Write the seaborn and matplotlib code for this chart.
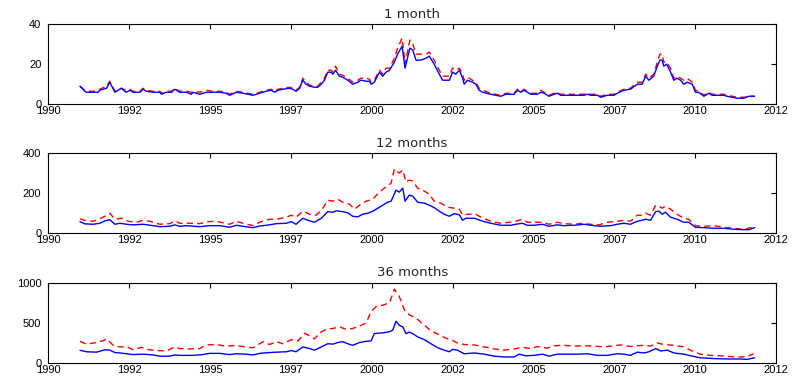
import numpy as np
import pandas as pd
import matplotlib
matplotlib.use("Agg")
import matplotlib.pyplot as plt
import seaborn as sns

# ---------------- data (decimal years) ----------------
titles = ["1 month", "12 months", "36 months"]
y_ticks = [[0, 20, 40], [0, 200, 400], [0, 500, 1000]]
x_ticks = [1990, 1992.5, 1995, 1997.5, 2000, 2002.5, 2005, 2007.5, 2010, 2012.5]
x_tick_labels = ["1990", "1992", "1995", "1997", "2000", "2002", "2005", "2007", "2010", "2012"]

t1 = [1990.98, 1991.13, 1991.18, 1991.39, 1991.54, 1991.59, 1991.80, 1991.90, 1992.06, 1992.26,
      1992.40, 1992.52, 1992.62, 1992.83, 1992.93, 1993.03, 1993.24, 1993.45, 1993.50, 1993.65,
      1993.81, 1993.91, 1994.06, 1994.27, 1994.42, 1994.48, 1994.68, 1994.89, 1995.09, 1995.30,
      1995.50, 1995.61, 1995.81, 1996.02, 1996.33, 1996.53, 1996.74, 1996.89, 1997.00, 1997.10,
      1997.25, 1997.46, 1997.56, 1997.66, 1997.77, 1997.87, 1997.97, 1998.08, 1998.23, 1998.33,
      1998.44, 1998.54, 1998.64, 1998.74, 1998.80, 1998.88, 1999.00, 1999.10, 1999.26, 1999.41,
      1999.57, 1999.67, 1999.83, 1999.93, 1999.98, 2000.08, 2000.24, 2000.34, 2000.44, 2000.55,
      2000.70, 2000.80, 2000.94, 2001.03, 2001.09, 2001.18, 2001.27, 2001.37, 2001.52, 2001.68,
      2001.78, 2001.93, 2002.09, 2002.19, 2002.29, 2002.40, 2002.50, 2002.60, 2002.71, 2002.81,
      2002.86, 2002.96, 2003.12, 2003.22, 2003.32, 2003.43, 2003.68, 2003.99, 2004.15, 2004.40,
      2004.51, 2004.61, 2004.71, 2004.81, 2004.92, 2005.12, 2005.23, 2005.33, 2005.48, 2005.64,
      2005.74, 2005.84, 2006.56, 2006.67, 2006.77, 2006.98, 2007.08, 2007.28, 2007.49, 2007.59,
      2007.80, 2008.00, 2008.21, 2008.36, 2008.47, 2008.57, 2008.72, 2008.83, 2008.91, 2008.98,
      2009.03, 2009.12, 2009.24, 2009.34, 2009.44, 2009.55, 2009.65, 2009.75, 2009.91, 2010.01,
      2010.11, 2010.27, 2010.42, 2010.52, 2010.88, 2010.99, 2011.30, 2011.50, 2011.66, 2011.84]
blue1 = [9, 6.5, 6, 6, 6, 7, 8, 11, 6, 8,
         6, 7, 6, 6, 7.5, 6.5, 6, 6, 5, 6,
         6, 7.5, 6, 6, 5, 6, 5, 6, 6, 6,
         5.5, 4.5, 6, 5.5, 4.5, 5.5, 6.5, 7, 6, 7,
         7.5, 8, 7.5, 6.5, 8, 12, 10, 9, 8.5, 8.5,
         10, 12, 16, 16, 15, 17, 14, 13.5, 12, 10,
         11, 12, 11.5, 11.5, 10, 11, 16, 14, 16, 17,
         21, 25, 29, 18, 22, 28, 27, 22, 22, 23,
         24, 20, 15, 12, 12, 12, 16, 15, 17, 13,
         10, 12, 11, 10, 7, 6, 5, 4, 5, 5,
         7, 6, 7, 6, 5, 5, 6, 5.5, 4, 5,
         5.5, 4.5, 4.5, 5, 4.5, 4.5, 3.5, 4.5, 4.5, 5.5,
         7, 7.5, 10, 10, 14, 12, 14, 19, 22, 22,
         19, 20, 16, 12, 13, 12, 10, 11, 10, 6,
         6, 4, 5.5, 4.5, 4.5, 4, 3, 3, 4, 4]
red1 = [9, 7, 6.5, 6.5, 7, 7.5, 9, 11.5, 6.5, 8,
        7, 7.5, 6.5, 6.5, 8, 7, 6.5, 6.5, 5.5, 6.5,
        6.5, 8, 6.5, 6.5, 6, 6.5, 6, 7, 6.5, 6.5,
        6, 5, 6.5, 6, 5, 6, 7, 7.5, 6.5, 7.5,
        8, 8.5, 8, 7, 8.5, 13, 11, 9.5, 9, 9,
        11, 13, 17, 17, 16, 19, 15, 14.5, 13, 11,
        12, 13, 13, 12.5, 11, 12, 17, 15, 18, 18,
        23, 28, 33, 20, 25, 32, 30, 25, 25, 25,
        26, 22, 17, 14, 14, 14, 18, 17, 18, 15,
        12, 13.5, 12, 11, 8, 7, 5.5, 4.5, 5.5, 5.5,
        7.5, 6.5, 7.5, 6.5, 5.5, 5.5, 7, 6, 4.5, 5.5,
        6, 5, 5, 5.5, 5, 5, 4, 5, 5, 6,
        7.5, 8, 11, 11, 15, 13, 15, 21, 25, 25,
        21, 21, 18, 13, 14, 13, 12, 13, 11, 7,
        6.5, 4.5, 6, 5, 5, 4.5, 3.5, 3.5, 4, 4]

t2_blue = [1990.98, 1991.13, 1991.39, 1991.59, 1991.75, 1991.90, 1992.06, 1992.21, 1992.42, 1992.62,
           1992.93, 1993.24, 1993.45, 1993.76, 1993.91, 1994.06, 1994.27, 1994.68, 1994.99, 1995.30,
           1995.61, 1995.81, 1996.02, 1996.33, 1996.53, 1996.84, 1997.05, 1997.36, 1997.51, 1997.66,
           1997.87, 1998.02, 1998.23, 1998.44, 1998.64, 1998.80, 1998.90, 1999.10, 1999.26, 1999.41,
           1999.57, 1999.72, 1999.88, 2000.03, 2000.19, 2000.34, 2000.49, 2000.60, 2000.75, 2000.85,
           2000.96, 2001.03, 2001.16, 2001.27, 2001.42, 2001.63, 2001.78, 2001.93, 2002.09, 2002.24,
           2002.40, 2002.55, 2002.71, 2002.81, 2002.91, 2003.17, 2003.43, 2003.68, 2003.99, 2004.30,
           2004.45, 2004.66, 2004.81, 2005.02, 2005.28, 2005.48, 2005.74, 2005.95, 2006.26, 2006.56,
           2006.77, 2007.08, 2007.39, 2007.59, 2007.80, 2008.00, 2008.21, 2008.36, 2008.47, 2008.62,
           2008.78, 2008.88, 2008.98, 2009.08, 2009.24, 2009.44, 2009.65, 2009.80, 2010.01, 2010.27,
           2010.58, 2010.88, 2011.19, 2011.50, 2011.66, 2011.84]
blue2 = [58, 47, 45, 50, 62, 68, 45, 50, 45, 42,
         45, 38, 33, 35, 42, 35, 38, 33, 38, 38,
         30, 40, 35, 28, 36, 42, 48, 50, 58, 45,
         75, 65, 55, 75, 108, 105, 112, 108, 102, 85,
         82, 95, 100, 110, 125, 140, 155, 160, 215, 205,
         225, 160, 190, 185, 155, 150, 140, 128, 110, 95,
         85, 98, 92, 65, 75, 75, 60, 50, 40, 40,
         45, 50, 40, 40, 45, 35, 42, 38, 40, 45,
         40, 35, 38, 45, 50, 45, 60, 65, 70, 65,
         108, 110, 95, 105, 80, 70, 55, 55, 30, 28,
         25, 25, 20, 18, 18, 28]
t2_red = [1990.98, 1991.18, 1991.39, 1991.59, 1991.75, 1991.90, 1992.06, 1992.26, 1992.47, 1992.73,
          1992.93, 1993.14, 1993.45, 1993.76, 1993.91, 1994.06, 1994.37, 1994.68, 1994.94, 1995.19,
          1995.61, 1995.81, 1996.02, 1996.33, 1996.53, 1996.84, 1997.05, 1997.36, 1997.51, 1997.66,
          1997.87, 1998.08, 1998.28, 1998.49, 1998.64, 1998.80, 1998.95, 1999.10, 1999.31, 1999.47,
          1999.62, 1999.83, 2000.03, 2000.24, 2000.39, 2000.60, 2000.70, 2000.85, 2000.96, 2001.06,
          2001.16, 2001.27, 2001.42, 2001.63, 2001.78, 2001.93, 2002.14, 2002.35, 2002.55, 2002.71,
          2002.81, 2002.96, 2003.22, 2003.43, 2003.68, 2003.99, 2004.25, 2004.45, 2004.66, 2004.81,
          2005.02, 2005.28, 2005.48, 2005.74, 2005.95, 2006.26, 2006.51, 2006.77, 2007.03, 2007.28,
          2007.59, 2007.80, 2008.00, 2008.21, 2008.36, 2008.47, 2008.62, 2008.78, 2008.88, 2008.98,
          2009.08, 2009.24, 2009.44, 2009.65, 2009.80, 2010.01, 2010.27, 2010.58, 2010.88, 2011.19,
          2011.50, 2011.71, 2011.84]
red2 = [72, 62, 60, 72, 85, 100, 70, 75, 60, 55,
        65, 60, 45, 48, 62, 50, 50, 48, 58, 60,
        45, 60, 50, 38, 55, 70, 70, 80, 90, 80,
        110, 95, 90, 125, 165, 160, 170, 155, 145, 120,
        140, 160, 170, 205, 225, 250, 320, 300, 315, 255,
        265, 260, 225, 210, 195, 160, 150, 130, 125, 120,
        90, 95, 95, 75, 60, 50, 55, 60, 70, 55,
        55, 55, 45, 55, 48, 45, 50, 45, 42, 55,
        60, 65, 60, 90, 90, 100, 90, 140, 135, 125,
        135, 120, 95, 75, 70, 38, 35, 38, 30, 25,
        20, 28, 28]

t3_blue = [1990.98, 1991.18, 1991.49, 1991.75, 1991.90, 1992.06, 1992.21, 1992.42, 1992.62, 1992.93,
           1993.24, 1993.45, 1993.76, 1993.91, 1994.06, 1994.48, 1994.78, 1994.99, 1995.30, 1995.61,
           1995.81, 1996.12, 1996.33, 1996.53, 1996.84, 1997.05, 1997.36, 1997.51, 1997.66, 1997.87,
           1998.08, 1998.23, 1998.44, 1998.64, 1998.80, 1998.95, 1999.10, 1999.26, 1999.41, 1999.62,
           1999.83, 1999.98, 2000.08, 2000.34, 2000.55, 2000.65, 2000.75, 2000.85, 2000.96, 2001.06,
           2001.16, 2001.27, 2001.42, 2001.63, 2001.83, 2002.04, 2002.24, 2002.40, 2002.50, 2002.65,
           2002.86, 2003.17, 2003.48, 2003.79, 2004.09, 2004.40, 2004.56, 2004.76, 2005.02, 2005.28,
           2005.48, 2005.74, 2006.05, 2006.36, 2006.67, 2006.98, 2007.28, 2007.59, 2007.80, 2008.00,
           2008.21, 2008.42, 2008.57, 2008.78, 2008.93, 2009.14, 2009.34, 2009.65, 2009.91, 2010.16,
           2010.58, 2010.99, 2011.40, 2011.60, 2011.84]
blue3 = [158, 140, 135, 165, 160, 130, 125, 115, 105, 110,
         100, 85, 85, 100, 95, 95, 105, 120, 120, 105,
         115, 110, 100, 120, 130, 135, 140, 155, 140, 200,
         180, 160, 200, 240, 235, 255, 265, 240, 220, 255,
         270, 275, 367, 375, 390, 410, 520, 470, 450, 365,
         385, 365, 325, 290, 240, 190, 160, 140, 170, 160,
         115, 125, 110, 85, 75, 75, 110, 90, 95, 110,
         85, 110, 110, 110, 115, 95, 95, 115, 110, 95,
         135, 125, 140, 180, 150, 160, 125, 110, 85, 65,
         55, 50, 50, 45, 65]
t3_red = [1990.98, 1991.18, 1991.49, 1991.70, 1991.80, 1992.01, 1992.21, 1992.42, 1992.62, 1992.88,
          1993.03, 1993.34, 1993.65, 1993.91, 1994.06, 1994.37, 1994.68, 1994.89, 1995.19, 1995.50,
          1995.81, 1996.07, 1996.33, 1996.64, 1996.84, 1997.05, 1997.25, 1997.51, 1997.72, 1997.92,
          1998.13, 1998.23, 1998.38, 1998.59, 1998.80, 1999.00, 1999.21, 1999.41, 1999.62, 1999.83,
          1999.98, 2000.13, 2000.34, 2000.55, 2000.70, 2000.85, 2001.01, 2001.16, 2001.37, 2001.63,
          2001.83, 2002.04, 2002.29, 2002.50, 2002.65, 2002.86, 2003.17, 2003.48, 2003.79, 2004.09,
          2004.40, 2004.66, 2004.92, 2005.12, 2005.43, 2005.64, 2005.95, 2006.26, 2006.56, 2006.87,
          2007.18, 2007.39, 2007.70, 2008.00, 2008.21, 2008.42, 2008.62, 2008.83, 2009.03, 2009.34,
          2009.65, 2009.91, 2010.16, 2010.47, 2010.78, 2011.09, 2011.40, 2011.60, 2011.81]
red3 = [270, 235, 255, 280, 300, 220, 200, 205, 165, 195,
        170, 155, 150, 200, 180, 175, 180, 225, 230, 210,
        220, 200, 190, 265, 230, 265, 240, 290, 275, 370,
        330, 300, 370, 420, 430, 450, 420, 430, 460, 500,
        640, 700, 720, 750, 920, 830, 660, 600, 560, 470,
        400, 360, 310, 280, 250, 230, 225, 200, 175, 160,
        175, 195, 180, 205, 185, 215, 220, 210, 215, 210,
        200, 210, 225, 205, 215, 220, 210, 250, 230, 220,
        200, 150, 110, 95, 90, 80, 75, 80, 115]

panels = [
    (t1, blue1, t1, red1),
    (t2_blue, blue2, t2_red, red2),
    (t3_blue, blue3, t3_red, red3),
]

# ---------------- style ----------------
sns.set_theme(style="white")
plt.rcParams["font.family"] = ["Liberation Sans", "DejaVu Sans"]
plt.rcParams["font.size"] = 8
plt.rcParams["axes.edgecolor"] = "black"
plt.rcParams["axes.linewidth"] = 0.8

fig = plt.figure(figsize=(7.95, 3.76), dpi=100)
W, H = 795.0, 376.0
left_px, right_px = 48.3, 776.0
tops_px = [24.0, 153.0, 282.7]
height_px = 80.3

for i, (tb, vb, tr, vr) in enumerate(panels):
    top = tops_px[i]
    ax = fig.add_axes([left_px / W, 1 - (top + height_px) / H,
                       (right_px - left_px) / W, height_px / H])
    dfr = pd.DataFrame({"t": tr, "v": vr})
    dfb = pd.DataFrame({"t": tb, "v": vb})
    sns.lineplot(data=dfr, x="t", y="v", ax=ax, color=(1, 0, 0), lw=1.0,
                 estimator=None, sort=False, dashes=False, linestyle=(0, (4.5, 3)))
    sns.lineplot(data=dfb, x="t", y="v", ax=ax, color=(0, 0, 1), lw=1.0,
                 estimator=None, sort=False)
    ax.set_xlim(1990, 2012.5)
    ax.set_ylim(y_ticks[i][0], y_ticks[i][-1])
    ax.set_xticks(x_ticks)
    ax.set_xticklabels(x_tick_labels)
    ax.set_yticks(y_ticks[i])
    ax.set_yticklabels([str(v) for v in y_ticks[i]])
    ax.set_xlabel("")
    ax.set_ylabel("")
    ax.set_title(titles[i], fontsize=9.5, pad=4.5, family=["DejaVu Sans"])
    ax.tick_params(direction="in", top=True, right=True, length=3.5, width=0.8,
                   labelsize=8, colors="black")
    ax.tick_params(axis="x", pad=1.5)
    ax.tick_params(axis="y", pad=5)
    for s in ax.spines.values():
        s.set_visible(True)
        s.set_color("black")
        s.set_linewidth(0.8)

fig.savefig("out.png", dpi=100)
